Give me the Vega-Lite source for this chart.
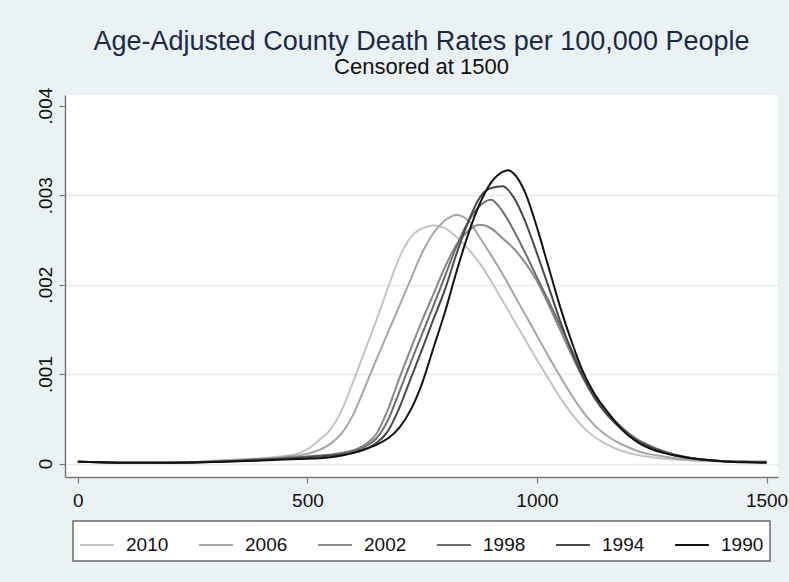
{
  "$schema": "https://vega.github.io/schema/vega-lite/v6.json",
  "width": 713,
  "height": 382,
  "autosize": "none",
  "padding": {"left": 65, "top": 95, "right": 11, "bottom": 105},
  "background": "#eaf2f3",
  "view": {"fill": "white", "stroke": null},
  "title": {
    "text": "Age-Adjusted County Death Rates per 100,000 People",
    "subtitle": "Censored at 1500",
    "anchor": "middle",
    "frame": "group",
    "font": "Liberation Sans",
    "fontSize": 27,
    "fontWeight": "normal",
    "color": "#1c2a4a",
    "subtitleFont": "Liberation Sans",
    "subtitleFontSize": 22,
    "subtitleColor": "#111111",
    "subtitlePadding": 1,
    "offset": 8
  },
  "config": {"legend": {"strokeWidth": 1.5}},
  "data": {"values": [
    {"year":"2010","x":0,"d":0.02e-3},{"year":"2010","x":50,"d":0.015e-3},{"year":"2010","x":100,"d":0.01e-3},{"year":"2010","x":150,"d":0.01e-3},{"year":"2010","x":200,"d":0.012e-3},{"year":"2010","x":250,"d":0.018e-3},{"year":"2010","x":300,"d":0.035e-3},{"year":"2010","x":350,"d":0.045e-3},{"year":"2010","x":400,"d":0.06e-3},{"year":"2010","x":450,"d":0.085e-3},{"year":"2010","x":475,"d":0.105e-3},{"year":"2010","x":500,"d":0.16e-3},{"year":"2010","x":525,"d":0.26e-3},{"year":"2010","x":550,"d":0.38e-3},{"year":"2010","x":575,"d":0.6e-3},{"year":"2010","x":600,"d":0.92e-3},{"year":"2010","x":625,"d":1.26e-3},{"year":"2010","x":650,"d":1.6e-3},{"year":"2010","x":675,"d":1.96e-3},{"year":"2010","x":700,"d":2.3e-3},{"year":"2010","x":725,"d":2.53e-3},{"year":"2010","x":750,"d":2.63e-3},{"year":"2010","x":775,"d":2.66e-3},{"year":"2010","x":800,"d":2.63e-3},{"year":"2010","x":825,"d":2.53e-3},{"year":"2010","x":850,"d":2.4e-3},{"year":"2010","x":875,"d":2.24e-3},{"year":"2010","x":900,"d":2.04e-3},{"year":"2010","x":925,"d":1.82e-3},{"year":"2010","x":950,"d":1.6e-3},{"year":"2010","x":975,"d":1.38e-3},{"year":"2010","x":1000,"d":1.16e-3},{"year":"2010","x":1025,"d":0.95e-3},{"year":"2010","x":1050,"d":0.74e-3},{"year":"2010","x":1075,"d":0.56e-3},{"year":"2010","x":1100,"d":0.41e-3},{"year":"2010","x":1125,"d":0.3e-3},{"year":"2010","x":1150,"d":0.22e-3},{"year":"2010","x":1175,"d":0.16e-3},{"year":"2010","x":1200,"d":0.12e-3},{"year":"2010","x":1225,"d":0.09e-3},{"year":"2010","x":1250,"d":0.07e-3},{"year":"2010","x":1275,"d":0.055e-3},{"year":"2010","x":1300,"d":0.045e-3},{"year":"2010","x":1350,"d":0.03e-3},{"year":"2010","x":1400,"d":0.025e-3},{"year":"2010","x":1450,"d":0.02e-3},{"year":"2010","x":1500,"d":0.02e-3},

    {"year":"2006","x":0,"d":0.02e-3},{"year":"2006","x":50,"d":0.015e-3},{"year":"2006","x":100,"d":0.01e-3},{"year":"2006","x":150,"d":0.01e-3},{"year":"2006","x":200,"d":0.012e-3},{"year":"2006","x":250,"d":0.016e-3},{"year":"2006","x":300,"d":0.03e-3},{"year":"2006","x":350,"d":0.04e-3},{"year":"2006","x":400,"d":0.055e-3},{"year":"2006","x":450,"d":0.075e-3},{"year":"2006","x":500,"d":0.11e-3},{"year":"2006","x":525,"d":0.15e-3},{"year":"2006","x":550,"d":0.22e-3},{"year":"2006","x":575,"d":0.34e-3},{"year":"2006","x":600,"d":0.55e-3},{"year":"2006","x":625,"d":0.85e-3},{"year":"2006","x":650,"d":1.16e-3},{"year":"2006","x":675,"d":1.46e-3},{"year":"2006","x":700,"d":1.76e-3},{"year":"2006","x":725,"d":2.06e-3},{"year":"2006","x":750,"d":2.36e-3},{"year":"2006","x":775,"d":2.58e-3},{"year":"2006","x":800,"d":2.72e-3},{"year":"2006","x":825,"d":2.78e-3},{"year":"2006","x":850,"d":2.72e-3},{"year":"2006","x":875,"d":2.53e-3},{"year":"2006","x":900,"d":2.33e-3},{"year":"2006","x":925,"d":2.12e-3},{"year":"2006","x":950,"d":1.89e-3},{"year":"2006","x":975,"d":1.66e-3},{"year":"2006","x":1000,"d":1.43e-3},{"year":"2006","x":1025,"d":1.2e-3},{"year":"2006","x":1050,"d":0.98e-3},{"year":"2006","x":1075,"d":0.77e-3},{"year":"2006","x":1100,"d":0.58e-3},{"year":"2006","x":1125,"d":0.43e-3},{"year":"2006","x":1150,"d":0.32e-3},{"year":"2006","x":1175,"d":0.24e-3},{"year":"2006","x":1200,"d":0.18e-3},{"year":"2006","x":1225,"d":0.13e-3},{"year":"2006","x":1250,"d":0.1e-3},{"year":"2006","x":1275,"d":0.08e-3},{"year":"2006","x":1300,"d":0.06e-3},{"year":"2006","x":1350,"d":0.04e-3},{"year":"2006","x":1400,"d":0.03e-3},{"year":"2006","x":1450,"d":0.02e-3},{"year":"2006","x":1500,"d":0.02e-3},

    {"year":"2002","x":0,"d":0.02e-3},{"year":"2002","x":50,"d":0.015e-3},{"year":"2002","x":100,"d":0.01e-3},{"year":"2002","x":150,"d":0.01e-3},{"year":"2002","x":200,"d":0.01e-3},{"year":"2002","x":250,"d":0.015e-3},{"year":"2002","x":300,"d":0.025e-3},{"year":"2002","x":350,"d":0.035e-3},{"year":"2002","x":400,"d":0.05e-3},{"year":"2002","x":450,"d":0.065e-3},{"year":"2002","x":500,"d":0.08e-3},{"year":"2002","x":525,"d":0.09e-3},{"year":"2002","x":550,"d":0.1e-3},{"year":"2002","x":575,"d":0.12e-3},{"year":"2002","x":600,"d":0.15e-3},{"year":"2002","x":625,"d":0.21e-3},{"year":"2002","x":650,"d":0.33e-3},{"year":"2002","x":675,"d":0.6e-3},{"year":"2002","x":700,"d":0.95e-3},{"year":"2002","x":725,"d":1.28e-3},{"year":"2002","x":750,"d":1.6e-3},{"year":"2002","x":775,"d":1.9e-3},{"year":"2002","x":800,"d":2.2e-3},{"year":"2002","x":825,"d":2.45e-3},{"year":"2002","x":850,"d":2.6e-3},{"year":"2002","x":875,"d":2.67e-3},{"year":"2002","x":900,"d":2.63e-3},{"year":"2002","x":925,"d":2.52e-3},{"year":"2002","x":950,"d":2.4e-3},{"year":"2002","x":975,"d":2.24e-3},{"year":"2002","x":1000,"d":2.04e-3},{"year":"2002","x":1025,"d":1.78e-3},{"year":"2002","x":1050,"d":1.5e-3},{"year":"2002","x":1075,"d":1.22e-3},{"year":"2002","x":1100,"d":0.96e-3},{"year":"2002","x":1125,"d":0.74e-3},{"year":"2002","x":1150,"d":0.57e-3},{"year":"2002","x":1175,"d":0.43e-3},{"year":"2002","x":1200,"d":0.32e-3},{"year":"2002","x":1225,"d":0.24e-3},{"year":"2002","x":1250,"d":0.18e-3},{"year":"2002","x":1275,"d":0.13e-3},{"year":"2002","x":1300,"d":0.09e-3},{"year":"2002","x":1350,"d":0.05e-3},{"year":"2002","x":1400,"d":0.03e-3},{"year":"2002","x":1450,"d":0.02e-3},{"year":"2002","x":1500,"d":0.02e-3},

    {"year":"1998","x":0,"d":0.02e-3},{"year":"1998","x":50,"d":0.015e-3},{"year":"1998","x":100,"d":0.01e-3},{"year":"1998","x":150,"d":0.01e-3},{"year":"1998","x":200,"d":0.01e-3},{"year":"1998","x":250,"d":0.015e-3},{"year":"1998","x":300,"d":0.022e-3},{"year":"1998","x":350,"d":0.035e-3},{"year":"1998","x":400,"d":0.045e-3},{"year":"1998","x":450,"d":0.06e-3},{"year":"1998","x":500,"d":0.075e-3},{"year":"1998","x":525,"d":0.085e-3},{"year":"1998","x":550,"d":0.095e-3},{"year":"1998","x":575,"d":0.11e-3},{"year":"1998","x":600,"d":0.14e-3},{"year":"1998","x":625,"d":0.19e-3},{"year":"1998","x":650,"d":0.28e-3},{"year":"1998","x":675,"d":0.48e-3},{"year":"1998","x":700,"d":0.8e-3},{"year":"1998","x":725,"d":1.13e-3},{"year":"1998","x":750,"d":1.45e-3},{"year":"1998","x":775,"d":1.77e-3},{"year":"1998","x":800,"d":2.1e-3},{"year":"1998","x":825,"d":2.43e-3},{"year":"1998","x":850,"d":2.7e-3},{"year":"1998","x":875,"d":2.88e-3},{"year":"1998","x":900,"d":2.95e-3},{"year":"1998","x":925,"d":2.82e-3},{"year":"1998","x":950,"d":2.6e-3},{"year":"1998","x":975,"d":2.35e-3},{"year":"1998","x":1000,"d":2.08e-3},{"year":"1998","x":1025,"d":1.82e-3},{"year":"1998","x":1050,"d":1.55e-3},{"year":"1998","x":1075,"d":1.28e-3},{"year":"1998","x":1100,"d":1.01e-3},{"year":"1998","x":1125,"d":0.78e-3},{"year":"1998","x":1150,"d":0.6e-3},{"year":"1998","x":1175,"d":0.45e-3},{"year":"1998","x":1200,"d":0.34e-3},{"year":"1998","x":1225,"d":0.25e-3},{"year":"1998","x":1250,"d":0.19e-3},{"year":"1998","x":1275,"d":0.14e-3},{"year":"1998","x":1300,"d":0.1e-3},{"year":"1998","x":1350,"d":0.05e-3},{"year":"1998","x":1400,"d":0.03e-3},{"year":"1998","x":1450,"d":0.02e-3},{"year":"1998","x":1500,"d":0.015e-3},

    {"year":"1994","x":0,"d":0.02e-3},{"year":"1994","x":50,"d":0.015e-3},{"year":"1994","x":100,"d":0.01e-3},{"year":"1994","x":150,"d":0.01e-3},{"year":"1994","x":200,"d":0.01e-3},{"year":"1994","x":250,"d":0.012e-3},{"year":"1994","x":300,"d":0.02e-3},{"year":"1994","x":350,"d":0.03e-3},{"year":"1994","x":400,"d":0.04e-3},{"year":"1994","x":450,"d":0.055e-3},{"year":"1994","x":500,"d":0.07e-3},{"year":"1994","x":525,"d":0.08e-3},{"year":"1994","x":550,"d":0.09e-3},{"year":"1994","x":575,"d":0.1e-3},{"year":"1994","x":600,"d":0.12e-3},{"year":"1994","x":625,"d":0.16e-3},{"year":"1994","x":650,"d":0.23e-3},{"year":"1994","x":675,"d":0.36e-3},{"year":"1994","x":700,"d":0.62e-3},{"year":"1994","x":725,"d":0.95e-3},{"year":"1994","x":750,"d":1.28e-3},{"year":"1994","x":775,"d":1.62e-3},{"year":"1994","x":800,"d":1.95e-3},{"year":"1994","x":825,"d":2.35e-3},{"year":"1994","x":850,"d":2.7e-3},{"year":"1994","x":875,"d":2.97e-3},{"year":"1994","x":900,"d":3.08e-3},{"year":"1994","x":925,"d":3.1e-3},{"year":"1994","x":950,"d":2.97e-3},{"year":"1994","x":975,"d":2.7e-3},{"year":"1994","x":1000,"d":2.35e-3},{"year":"1994","x":1025,"d":1.98e-3},{"year":"1994","x":1050,"d":1.6e-3},{"year":"1994","x":1075,"d":1.26e-3},{"year":"1994","x":1100,"d":0.97e-3},{"year":"1994","x":1125,"d":0.74e-3},{"year":"1994","x":1150,"d":0.56e-3},{"year":"1994","x":1175,"d":0.43e-3},{"year":"1994","x":1200,"d":0.32e-3},{"year":"1994","x":1225,"d":0.24e-3},{"year":"1994","x":1250,"d":0.18e-3},{"year":"1994","x":1275,"d":0.13e-3},{"year":"1994","x":1300,"d":0.1e-3},{"year":"1994","x":1350,"d":0.05e-3},{"year":"1994","x":1400,"d":0.03e-3},{"year":"1994","x":1450,"d":0.02e-3},{"year":"1994","x":1500,"d":0.015e-3},

    {"year":"1990","x":0,"d":0.02e-3},{"year":"1990","x":50,"d":0.015e-3},{"year":"1990","x":100,"d":0.01e-3},{"year":"1990","x":150,"d":0.01e-3},{"year":"1990","x":200,"d":0.01e-3},{"year":"1990","x":250,"d":0.012e-3},{"year":"1990","x":300,"d":0.018e-3},{"year":"1990","x":350,"d":0.025e-3},{"year":"1990","x":400,"d":0.035e-3},{"year":"1990","x":450,"d":0.045e-3},{"year":"1990","x":500,"d":0.055e-3},{"year":"1990","x":525,"d":0.06e-3},{"year":"1990","x":550,"d":0.07e-3},{"year":"1990","x":575,"d":0.09e-3},{"year":"1990","x":600,"d":0.12e-3},{"year":"1990","x":625,"d":0.16e-3},{"year":"1990","x":650,"d":0.21e-3},{"year":"1990","x":675,"d":0.28e-3},{"year":"1990","x":700,"d":0.4e-3},{"year":"1990","x":725,"d":0.6e-3},{"year":"1990","x":750,"d":0.9e-3},{"year":"1990","x":775,"d":1.3e-3},{"year":"1990","x":800,"d":1.7e-3},{"year":"1990","x":825,"d":2.15e-3},{"year":"1990","x":850,"d":2.56e-3},{"year":"1990","x":875,"d":2.9e-3},{"year":"1990","x":900,"d":3.14e-3},{"year":"1990","x":925,"d":3.26e-3},{"year":"1990","x":937,"d":3.28e-3},{"year":"1990","x":950,"d":3.24e-3},{"year":"1990","x":975,"d":3.02e-3},{"year":"1990","x":1000,"d":2.64e-3},{"year":"1990","x":1025,"d":2.2e-3},{"year":"1990","x":1050,"d":1.76e-3},{"year":"1990","x":1075,"d":1.37e-3},{"year":"1990","x":1100,"d":1.03e-3},{"year":"1990","x":1125,"d":0.78e-3},{"year":"1990","x":1150,"d":0.6e-3},{"year":"1990","x":1175,"d":0.44e-3},{"year":"1990","x":1200,"d":0.31e-3},{"year":"1990","x":1225,"d":0.22e-3},{"year":"1990","x":1250,"d":0.16e-3},{"year":"1990","x":1275,"d":0.12e-3},{"year":"1990","x":1300,"d":0.09e-3},{"year":"1990","x":1350,"d":0.05e-3},{"year":"1990","x":1400,"d":0.025e-3},{"year":"1990","x":1450,"d":0.015e-3},{"year":"1990","x":1500,"d":0.01e-3}
  ]},
  "mark": {"type": "line", "interpolate": "monotone", "strokeWidth": 2},
  "encoding": {
    "x": {
      "field": "x", "type": "quantitative",
      "scale": {"domain": [-28, 1525], "nice": false, "zero": false},
      "axis": {
        "values": [0, 500, 1000, 1500], "title": null, "grid": false, "format": "d",
        "domainColor": "#7a7a7a", "domainWidth": 1.5,
        "tickColor": "#7a7a7a", "tickSize": 6, "tickWidth": 1.2,
        "labelFont": "Liberation Sans", "labelFontSize": 19, "labelColor": "#111111",
        "labelPadding": 8, "labelFlush": false
      }
    },
    "y": {
      "field": "d", "type": "quantitative",
      "scale": {"domain": [-0.00015, 0.00412], "nice": false, "zero": false},
      "axis": {
        "values": [0, 0.001, 0.002, 0.003, 0.004], "title": null,
        "labelExpr": "datum.value == 0 ? '0' : replace(format(datum.value, '.3f'), '0.', '.')",
        "labelAngle": -90, "labelAlign": "center", "labelBaseline": "bottom",
        "labelFont": "Liberation Sans", "labelFontSize": 19, "labelColor": "#111111",
        "labelPadding": 4,
        "grid": true, "gridColor": "#e6eef0", "gridWidth": 1.5,
        "gridOpacity": {"condition": {"test": "datum.value > 0.0035", "value": 0}, "value": 1},
        "domainColor": "#7a7a7a", "domainWidth": 1.5,
        "tickColor": "#7a7a7a", "tickSize": 6, "tickWidth": 1.2
      }
    },
    "color": {
      "field": "year", "type": "nominal",
      "scale": {
        "domain": ["2010", "2006", "2002", "1998", "1994", "1990"],
        "range": ["#c4c4c4", "#a6a6a6", "#8a8a8a", "#6e6e6e", "#4a4a4a", "#111111"]
      },
      "legend": {
        "title": null, "orient": "none", "legendX": 8, "legendY": 426,
        "direction": "horizontal", "columns": 6,
        "symbolType": "stroke", "symbolSize": 1150, "symbolStrokeWidth": 2,
        "labelFont": "Liberation Sans", "labelFontSize": 19, "labelColor": "#111111",
        "labelOffset": 11, "columnPadding": 26,
        "padding": 6, "fillColor": "white", "strokeColor": "#6a6a6a"
      }
    }
  }
}
